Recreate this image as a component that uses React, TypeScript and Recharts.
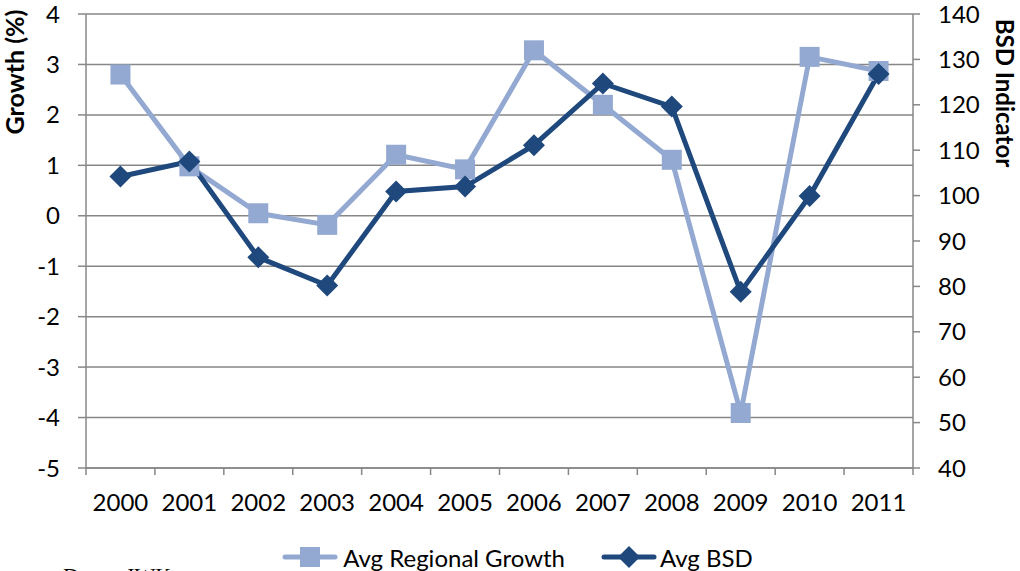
import React from 'react';
import { LineChart, Line, XAxis, YAxis, CartesianGrid, Legend } from 'recharts';

const years = ['2000', '2001', '2002', '2003', '2004', '2005', '2006', '2007', '2008', '2009', '2010', '2011'];
const growth = [2.8, 0.98, 0.05, -0.18, 1.21, 0.92, 3.28, 2.2, 1.11, -3.91, 3.15, 2.87];
const bsd = [104.2, 107.5, 86.4, 80.2, 100.9, 102.0, 111.1, 124.7, 119.6, 78.8, 99.9, 126.8];
const growthTicks = [-5, -4, -3, -2, -1, 0, 1, 2, 3, 4];
const bsdTicks = [40, 50, 60, 70, 80, 90, 100, 110, 120, 130, 140];

const LIGHT = '#93A9D1';
const DARK = '#1F487C';
const GRID = '#878787';
const FONT = 'Lato, "Open Sans", sans-serif';
const FS = 24;

const data = years.map((year, i) => ({ year, growth: growth[i], bsd: bsd[i] }));

const SquareDot = (props: any) => {
  const { cx, cy } = props;
  if (cx == null || cy == null) return null;
  return <rect x={cx - 10} y={cy - 10} width={20} height={20} fill={LIGHT} />;
};

const DiamondDot = (props: any) => {
  const { cx, cy } = props;
  if (cx == null || cy == null) return null;
  const r = 11;
  return (
    <polygon
      points={`${cx},${cy - r} ${cx + r},${cy} ${cx},${cy + r} ${cx - r},${cy}`}
      fill={DARK}
    />
  );
};

const XTick = (props: any) => {
  const { x, y, payload, index } = props;
  const half = payload && payload.offset ? payload.offset : 34.46;
  const axisY = y - 7;
  const isLast = index === years.length - 1;
  return (
    <g>
      <line x1={x - half} x2={x - half} y1={axisY} y2={axisY + 7} stroke={GRID} strokeWidth={1.5} />
      {isLast && <line x1={x + half} x2={x + half} y1={axisY} y2={axisY + 7} stroke={GRID} strokeWidth={1.5} />}
      <text x={x} y={axisY + 43} textAnchor="middle" fontSize={FS} fill="#000" fontFamily={FONT}>
        {payload.value}
      </text>
    </g>
  );
};

const LegendContent = () => (
  <div
    style={{
      display: 'flex',
      justifyContent: 'center',
      alignItems: 'center',
      height: 28,
      paddingLeft: 15,
      fontFamily: FONT,
      fontSize: FS,
      color: '#000',
      whiteSpace: 'nowrap',
    }}
  >
    <div style={{ display: 'flex', alignItems: 'center' }}>
      <svg width={56} height={22}>
        <line x1={3} x2={53} y1={11} y2={11} stroke={LIGHT} strokeWidth={5} strokeLinecap="round" />
        <rect x={18} y={1} width={20} height={20} fill={LIGHT} />
      </svg>
      <span style={{ marginLeft: 5 }}>Avg Regional Growth</span>
    </div>
    <div style={{ display: 'flex', alignItems: 'center', marginLeft: 36 }}>
      <svg width={56} height={22}>
        <line x1={3} x2={53} y1={11} y2={11} stroke={DARK} strokeWidth={5} strokeLinecap="round" />
        <polygon points="28,0 39,11 28,22 17,11" fill={DARK} />
      </svg>
      <span style={{ marginLeft: 3 }}>Avg BSD</span>
    </div>
  </div>
);

const LeftTitle = () => (
  <text
    x={14}
    y={72}
    transform="rotate(-90 14 72)"
    textAnchor="middle"
    dominantBaseline="central"
    fontSize={25}
    fontWeight="bold"
    fontFamily={FONT}
    fill="#000"
  >
    Growth (%)
  </text>
);

const RightTitle = () => (
  <text
    x={1005}
    y={93}
    transform="rotate(90 1005 93)"
    textAnchor="middle"
    dominantBaseline="central"
    fontSize={24}
    fontWeight="bold"
    fontFamily={FONT}
    fill="#000"
  >
    BSD Indicator
  </text>
);

export default function App() {
  return (
    <div
      style={{
        position: 'absolute',
        left: 0,
        top: 0,
        width: 1020,
        height: 571,
        overflow: 'hidden',
        background: '#fff',
      }}
    >
      <LineChart width={1020} height={571} data={data} margin={{ top: 14, right: 0, left: 0, bottom: 0 }}>
        <CartesianGrid yAxisId="left" vertical={false} stroke={GRID} strokeWidth={1.5} />
        <XAxis
          dataKey="year"
          scale="band"
          height={75}
          tickSize={7}
          tickMargin={0}
          tickLine={false}
          axisLine={{ stroke: GRID, strokeWidth: 1.5 }}
          tick={<XTick />}
          interval={0}
        />
        <YAxis
          yAxisId="left"
          orientation="left"
          width={86}
          domain={[-5, 4]}
          ticks={growthTicks}
          interval={0}
          tickSize={8}
          tickMargin={18}
          axisLine={{ stroke: GRID, strokeWidth: 1.5 }}
          tickLine={{ stroke: GRID, strokeWidth: 1.5 }}
          tick={{ fontSize: FS, fill: '#000', fontFamily: FONT }}
          label={{ content: () => <LeftTitle /> }}
        />
        <YAxis
          yAxisId="right"
          orientation="right"
          width={107}
          domain={[40, 140]}
          ticks={bsdTicks}
          interval={0}
          tickSize={7}
          tickMargin={18}
          axisLine={{ stroke: GRID, strokeWidth: 1.5 }}
          tickLine={{ stroke: GRID, strokeWidth: 1.5 }}
          tick={{ fontSize: FS, fill: '#000', fontFamily: FONT, textAnchor: 'start' }}
          label={{ content: () => <RightTitle /> }}
        />
        <Legend verticalAlign="bottom" align="center" content={<LegendContent />} />
        <Line
          yAxisId="left"
          type="linear"
          dataKey="growth"
          name="Avg Regional Growth"
          stroke={LIGHT}
          strokeWidth={5}
          dot={<SquareDot />}
          activeDot={false}
          isAnimationActive={false}
        />
        <Line
          yAxisId="right"
          type="linear"
          dataKey="bsd"
          name="Avg BSD"
          stroke={DARK}
          strokeWidth={5}
          dot={<DiamondDot />}
          activeDot={false}
          isAnimationActive={false}
        />
      </LineChart>
      <div
        style={{
          position: 'absolute',
          left: 63,
          top: 563,
          fontFamily: '"Liberation Serif", "Times New Roman", serif',
          fontSize: 22,
          lineHeight: 'normal',
          color: '#000',
          whiteSpace: 'nowrap',
        }}
      >
        Daten: IWK
      </div>
    </div>
  );
}
